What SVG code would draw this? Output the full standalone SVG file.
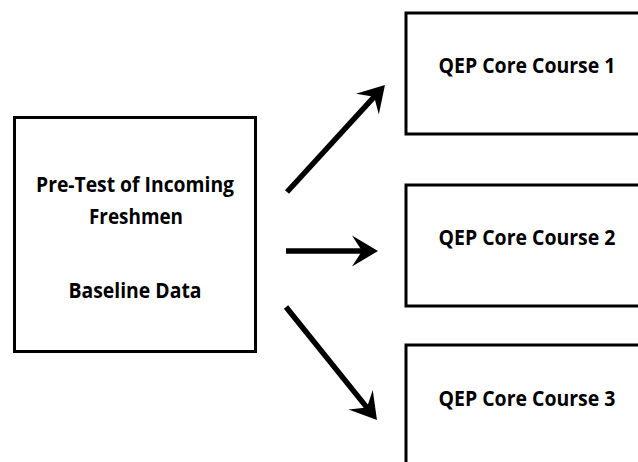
<svg xmlns="http://www.w3.org/2000/svg" width="638" height="462" viewBox="0 0 638 462">
<style>
.box{fill:#fff;stroke:#000;stroke-width:3}
.t{font-family:"Open Sans","Liberation Sans",sans-serif;font-weight:bold;font-size:21.5px;fill:#000;text-anchor:middle}
.arr{stroke:#000;stroke-width:5.5;fill:none;marker-end:url(#head)}
</style>
<defs>
<marker id="head" markerUnits="userSpaceOnUse" markerWidth="30" markerHeight="32" viewBox="0 -16 30 32" refX="16" refY="0" orient="auto">
<path d="M30,0 L4,-15.5 L14,0 L4,15.5 Z" fill="#000"/>
</marker>
</defs>
<rect width="638" height="462" fill="#fff"/>
<g id="pretest">
<rect class="box" x="14.5" y="117.5" width="241" height="234"/>
<text class="t" x="135" y="192" textLength="198" lengthAdjust="spacingAndGlyphs">Pre-Test of Incoming</text>
<text class="t" x="136" y="224" textLength="94" lengthAdjust="spacingAndGlyphs">Freshmen</text>
<text class="t" x="135" y="298" textLength="133" lengthAdjust="spacingAndGlyphs">Baseline Data</text>
</g>
<g id="course1">
<rect class="box" x="406" y="13" width="245" height="121"/>
<text class="t" x="527" y="73" textLength="177" lengthAdjust="spacingAndGlyphs">QEP Core Course 1</text>
</g>
<g id="course2">
<rect class="box" x="406" y="185" width="245" height="121"/>
<text class="t" x="527" y="245" textLength="177" lengthAdjust="spacingAndGlyphs">QEP Core Course 2</text>
</g>
<g id="course3">
<rect class="box" x="406" y="345" width="245" height="125"/>
<text class="t" x="527" y="406" textLength="177" lengthAdjust="spacingAndGlyphs">QEP Core Course 3</text>
</g>
<g id="connectors">
<line class="arr" x1="287" y1="192" x2="375.5" y2="95.3"/>
<line class="arr" x1="286" y1="251" x2="364" y2="251"/>
<line class="arr" x1="286" y1="307" x2="368.2" y2="409.1"/>
</g>
</svg>
